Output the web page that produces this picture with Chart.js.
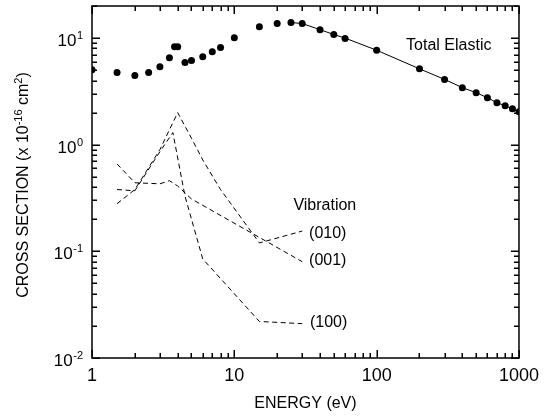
<!DOCTYPE html>
<html>
<head>
<meta charset="utf-8">
<script src="https://cdn.jsdelivr.net/npm/chart.js@4.4.1/dist/chart.umd.min.js"></script>
<style>
html, body { margin: 0; padding: 0; background: #fff; }
#wrap { width: 546px; height: 420px; }
</style>
</head>
<body>
<div id="wrap"><canvas id="xsChart"></canvas></div>
<script>
// total elastic, measured points
const elasticEnergy = [1, 1.5, 2, 2.5, 3, 3.5, 3.8, 4, 4.5, 5, 6, 7, 8, 10, 15, 20, 25, 30, 40, 50, 60,
    100, 200, 300, 400, 500, 600, 700, 800, 900, 1000];
const elasticSigma = [5.06, 4.75, 4.45, 4.75, 5.4, 6.55, 8.3, 8.3, 5.9, 6.15, 6.7, 7.45, 8.15, 10.1, 12.8, 13.7, 14.0, 13.7, 12.0, 10.8, 9.9,
    7.7, 5.15, 4.1, 3.43, 3.08, 2.76, 2.48, 2.32, 2.18, 2.04];

// total elastic, solid curve
const fitEnergy = [25, 30, 40, 50, 60, 100, 200, 300, 400, 500, 600, 700, 800, 900, 1000];
const fitSigma = [14.0, 13.7, 12.0, 10.8, 10.0, 7.7, 5.15, 4.1, 3.43, 3.08, 2.76, 2.48, 2.32, 2.18, 2.02];

// vibrational excitation, dashed
const vib010Energy = [1.5, 2, 3, 4, 5, 6, 8, 15, 30];
const vib010Sigma = [0.28, 0.38, 0.9, 2.0, 1.15, 0.72, 0.38, 0.12, 0.155];
const vib001Energy = [1.5, 2, 3, 3.5, 4, 5, 30];
const vib001Sigma = [0.66, 0.44, 0.43, 0.46, 0.41, 0.31, 0.08];
const vib100Energy = [1.5, 2, 3, 3.7, 4.5, 6, 15, 30];
const vib100Sigma = [0.38, 0.37, 0.86, 1.3, 0.33, 0.085, 0.022, 0.021];

const xTickValues = [1, 10, 100, 1000];
const xTickLabels = ['1', '10', '100', '1000'];
const yTickValues = [10, 1, 0.1, 0.01];
const yTickExponents = ['1', '0', '-1', '-2'];
const xMinorTicks = [2, 3, 4, 5, 6, 7, 8, 9, 20, 30, 40, 50, 60, 70, 80, 90, 200, 300, 400, 500, 600, 700, 800, 900];
const yMinorTicks = [0.02, 0.03, 0.04, 0.05, 0.06, 0.07, 0.08, 0.09, 0.2, 0.3, 0.4, 0.5, 0.6, 0.7, 0.8, 0.9,
    2, 3, 4, 5, 6, 7, 8, 9, 20];

const FONT = '"Liberation Sans", Arial, Helvetica, sans-serif';

const notes = [
    { text: 'Total Elastic', x: 161, y: 8.5 },
    { text: 'Vibration', x: 26, y: 0.267 },
    { text: '(010)', x: 33.5, y: 0.147 },
    { text: '(001)', x: 33.5, y: 0.0815 },
    { text: '(100)', x: 34, y: 0.0216 }
];

const toPoints = (xs, ys) => xs.map((x, i) => ({ x: x, y: ys[i] }));

const dashed = (xs, ys) => ({
    data: toPoints(xs, ys),
    borderColor: '#000',
    borderWidth: 1,
    borderDash: [5, 3.5],
    pointRadius: 0,
    fill: false,
    tension: 0
});

// frame, inward ticks, y labels with exponents, notes
const framePlugin = {
    id: 'framePlugin',
    afterDraw(chart) {
        const { ctx, chartArea: a, scales: { x, y } } = chart;
        ctx.save();
        ctx.setLineDash([]);
        ctx.fillStyle = '#000';
        ctx.strokeStyle = '#000';

        const xTick = (v, len) => {
            const px = Math.round(x.getPixelForValue(v));
            ctx.fillRect(px - 0.5, a.bottom - len, 1.5, len);
            ctx.fillRect(px - 0.5, a.top, 1.5, len);
        };
        const yTick = (v, len) => {
            const py = Math.round(y.getPixelForValue(v));
            ctx.fillRect(a.left, py - 0.5, len, 1.5);
            ctx.fillRect(a.right - len, py - 0.5, len, 1.5);
        };
        xTickValues.forEach(v => xTick(v, 8));
        xMinorTicks.forEach(v => xTick(v, 5));
        yTickValues.forEach(v => yTick(v, 8));
        yMinorTicks.forEach(v => yTick(v, 5));

        ctx.lineWidth = 1.5;
        ctx.strokeRect(a.left, a.top, a.right - a.left, a.bottom - a.top);

        // y tick labels 10^n
        ctx.textBaseline = 'alphabetic';
        yTickValues.forEach((v, i) => {
            const py = y.getPixelForValue(v);
            const right = a.left - 9;
            ctx.font = '11px ' + FONT;
            const ew = ctx.measureText(yTickExponents[i]).width;
            ctx.textAlign = 'left';
            ctx.fillText(yTickExponents[i], right - ew, py + 1);
            ctx.font = '17px ' + FONT;
            ctx.textAlign = 'right';
            ctx.fillText('10', right - ew - 0.5, py + 8);
        });

        // y title, rotated, with superscripts
        const parts = [
            ['CROSS SECTION (x 10', 16, 0],
            ['-16', 11, -6.5],
            [' cm', 16, 0],
            ['2', 11, -6.5],
            [')', 16, 0]
        ];
        let total = 0;
        parts.forEach(p => { ctx.font = p[1] + 'px ' + FONT; total += ctx.measureText(p[0]).width; });
        ctx.translate(28, (a.top + a.bottom) / 2 + 3);
        ctx.rotate(-Math.PI / 2);
        ctx.textAlign = 'left';
        let cx = -total / 2;
        parts.forEach(p => {
            ctx.font = p[1] + 'px ' + FONT;
            ctx.fillText(p[0], cx, p[2]);
            cx += ctx.measureText(p[0]).width;
        });
        ctx.setTransform(1, 0, 0, 1, 0, 0);
        ctx.restore();

        ctx.save();
        ctx.fillStyle = '#000';
        ctx.font = '16px ' + FONT;
        ctx.textAlign = 'left';
        ctx.textBaseline = 'middle';
        notes.forEach(n => {
            ctx.fillText(n.text, x.getPixelForValue(n.x), y.getPixelForValue(n.y));
        });
        ctx.restore();
    }
};

new Chart(document.getElementById('xsChart'), {
    type: 'line',
    data: {
        datasets: [
            {
                data: toPoints(elasticEnergy, elasticSigma),
                showLine: false,
                pointRadius: 3.5,
                pointBackgroundColor: '#000',
                pointBorderWidth: 0,
                clip: 0
            },
            {
                data: toPoints(fitEnergy, fitSigma),
                borderColor: '#000',
                borderWidth: 1,
                pointRadius: 0,
                tension: 0
            },
            dashed(vib010Energy, vib010Sigma),
            dashed(vib001Energy, vib001Sigma),
            dashed(vib100Energy, vib100Sigma)
        ]
    },
    options: {
        responsive: true,
        maintainAspectRatio: false,
        animation: false,
        events: [],
        layout: { padding: { left: 0, right: 23, top: 6, bottom: 0 } },
        plugins: {
            legend: { display: false },
            tooltip: { enabled: false }
        },
        scales: {
            x: {
                type: 'logarithmic',
                min: 1,
                max: 1000,
                grid: { display: false, drawTicks: false },
                border: { display: false },
                ticks: {
                    autoSkip: false,
                    maxRotation: 0,
                    padding: 7,
                    color: '#000',
                    font: { family: FONT, size: 18 },
                    callback: function(value) {
                        const i = xTickValues.findIndex(t => Math.abs(t - value) < 1e-9 * t);
                        return i >= 0 ? xTickLabels[i] : '';
                    }
                },
                title: {
                    display: true,
                    text: 'ENERGY (eV)',
                    color: '#000',
                    font: { family: FONT, size: 16 },
                    padding: { top: 0, bottom: 7 }
                },
                afterFit: s => { s.height = 62; }
            },
            y: {
                type: 'logarithmic',
                min: 0.01,
                max: 20,
                grid: { display: false, drawTicks: false },
                border: { display: false },
                ticks: { display: false },
                afterFit: s => { s.width = 92; }
            }
        }
    },
    plugins: [framePlugin]
});
</script>
</body>
</html>
